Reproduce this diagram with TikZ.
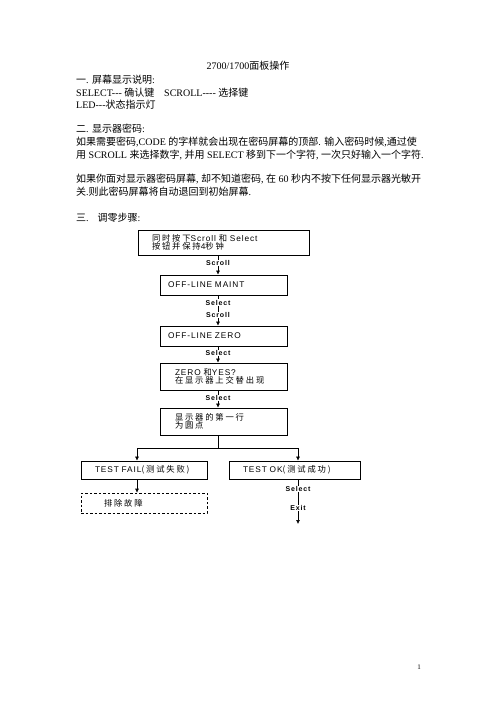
\documentclass[tikz,border=0pt]{standalone}
\usepackage{fontspec}
\setmainfont{Liberation Serif}
\newfontfamily\zh{Noto Sans CJK SC}
\newfontfamily\bfnt[LetterSpace=11]{Liberation Sans}
\newfontfamily\bzh[LetterSpace=22]{Noto Sans CJK SC}
\newfontfamily\lblfnt[LetterSpace=12]{Liberation Sans}
\usetikzlibrary{arrows.meta}
\begin{document}
\begin{tikzpicture}[x=1pt,y=-1pt,
  txt/.style={anchor=west,inner sep=0pt,font=\fontsize{10}{12}\selectfont},
  box/.style={draw,line width=0.7pt,align=left,inner ysep=0pt,font=\fontsize{8.3}{8.5}\selectfont\bfnt},
  lbl/.style={fill=white,inner sep=0.6pt,font=\fontsize{7}{7}\selectfont\lblfnt\bfseries},
  conn/.style={line width=0.6pt},
  arr/.style={conn,-{Latex[length=4pt,width=4pt]}}]
\useasboundingbox[fill=white] (0,0) rectangle (496,702);

% text block
\node[txt,anchor=center] (title) at (248,66) {2700/1700{\zh 面板操作}};
\node[txt] (h1) at (76,80) {{\zh 一}. {\zh 屏幕显示说明}:};
\node[txt] (k1) at (76,93) {SELECT-{}-{}- {\zh 确认键}};
\node[txt] (k2) at (164,93) {SCROLL-{}-{}-{}- {\zh 选择键}};
\node[txt] (k3) at (76,105) {LED-{}-{}-{\zh 状态指示灯}};
\node[txt] (h2) at (76,129) {{\zh 二}. {\zh 显示器密码}:};
\node[txt] (p1) at (76,142) {{\zh 如果需要密码},CODE {\zh 的字样就会出现在密码屏幕的顶部}. {\zh 输入密码时候},{\zh 通过使}};
\node[txt] (p2) at (76,155) {{\zh 用} SCROLL {\zh 来选择数字}, {\zh 并用} SELECT {\zh 移到下一个字符}, {\zh 一次只好输入一个字符}.};
\node[txt] (p3) at (76,179) {{\zh 如果你面对显示器密码屏幕}, {\zh 却不知道密码}, {\zh 在} 60 {\zh 秒内不按下任何显示器光敏开}};
\node[txt] (p4) at (76,192) {{\zh 关}.{\zh 则此密码屏幕将自动退回到初始屏幕}.};
\node[txt] (h3) at (76,218) {{\zh 三}.\hspace{9pt}{\zh 调零步骤}:};

% boxes
\node[box,text width=143pt,inner xsep=14pt,minimum height=25pt] (b1) at (223.5,242.5)
  {{\bzh 同时按下}Scroll {\bzh 和} Select\\{\bzh 按钮并保持}4{\bzh 秒钟}};
\node[box,text width=111pt,inner xsep=8pt,minimum height=20pt] (b2) at (223.5,285) {OFF-LINE MAINT};
\node[box,text width=111pt,inner xsep=8pt,minimum height=20pt] (b3) at (223.5,336) {OFF-LINE ZERO};
\node[box,text width=97pt,inner xsep=15pt,minimum height=27pt] (b4) at (223.5,376.5)
  {ZERO {\bzh 和}YES?\\{\bzh 在显示器上交替出现}};
\node[box,text width=97pt,inner xsep=15pt,minimum height=27pt] (b5) at (223.5,421.5)
  {{\bzh 显示器的第一行}\\{\bzh 为圆点}};
\node[box,text width=98pt,inner xsep=14pt,minimum height=18pt] (b6) at (144,470)
  {TEST FAIL{\bzh (测试失败)}};
\node[box,text width=103pt,inner xsep=14pt,minimum height=18pt] (b7) at (294.5,470)
  {TEST OK{\bzh (测试成功)}};
\node[box,dash pattern=on 2.5pt off 2pt,line width=0.6pt,text width=80pt,inner xsep=23pt,minimum height=20pt] (b8) at (144,503)
  {{\bzh 排除故障}};

% connectors
\coordinate (cx) at (218,0);
\coordinate (bl) at (137,0);
\coordinate (br) at (298,0);
\coordinate (j) at (218,448);
\coordinate (e) at (298,524);
\draw[arr] (b1.south -| cx) -- (b2.north -| cx);
\draw[arr] (b2.south -| cx) -- (b3.north -| cx);
\draw[arr] (b3.south -| cx) -- (b4.north -| cx);
\draw[arr] (b4.south -| cx) -- (b5.north -| cx);
\draw[conn] (b5.south -| cx) -- (j);
\draw[arr] (j) -| (b6.north -| bl);
\draw[arr] (j) -| (b7.north -| br);
\draw[arr] (b6.south -| bl) -- (b8.north -| bl);
\draw[arr] (b7.south -| br) -- (e);

\node[lbl] (l1) at (218,263) {Scroll};
\node[lbl] (l2) at (218,302.5) {Select};
\node[lbl] (l3) at (218,315) {Scroll};
\node[lbl] (l4) at (218,353) {Select};
\node[lbl] (l5) at (218,398) {Select};
\node[lbl] (l6) at (298,489) {Select};
\node[lbl] (l7) at (298,508) {Exit};

\node[inner sep=0pt,font=\fontsize{7}{8}\selectfont] (pg) at (419,667) {1};
\end{tikzpicture}
\end{document}
